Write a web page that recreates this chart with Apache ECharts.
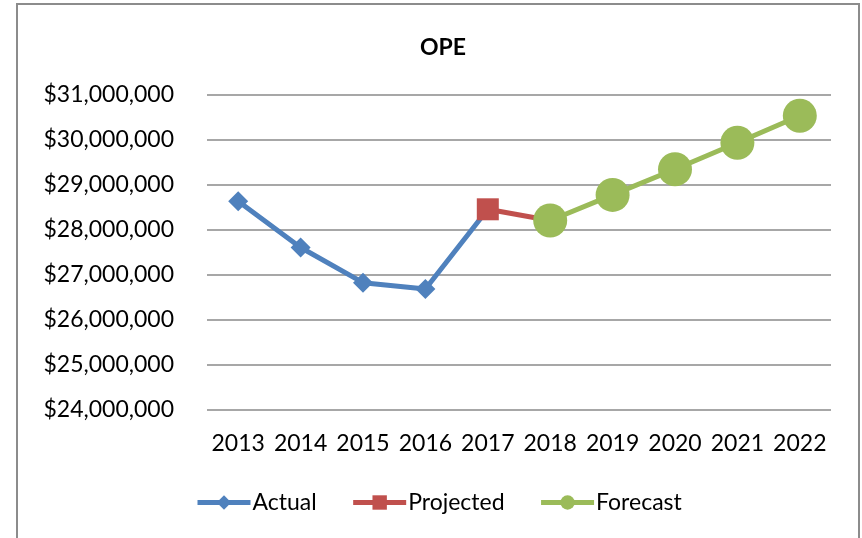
<!DOCTYPE html>
<html>
<head>
<meta charset="utf-8">
<script src="https://cdn.jsdelivr.net/npm/echarts@6/dist/echarts.min.js"></script>
<style>
  html, body { margin: 0; padding: 0; background: #fff; }
  #chart { width: 862px; height: 538px; }
</style>
</head>
<body>
<div id="chart"></div>
<script>
// chart data
const years = ['2013', '2014', '2015', '2016', '2017', '2018', '2019', '2020', '2021', '2022']
const actual = [28640000, 27610000, 26830000, 26690000, 28460000, null, null, null, null, null]
const projected = [null, null, null, null, 28460000, 28210000, null, null, null, null]
const forecast = [null, null, null, null, null, 28210000, 28780000, 29350000, 29940000, 30540000]

const font = 'Lato'
const chart = echarts.init(document.getElementById('chart'))

const money = v => '$' + v.toLocaleString('en-US')

let option = {
  animation: false,
  title: {
    text: 'OPE',
    left: 438,
    top: 31,
    textAlign: 'center',
    textStyle: { fontFamily: font, fontSize: 23, fontWeight: 'bold', color: '#000' }
  },
  graphic: [{
    type: 'rect',
    shape: { x: 17, y: 4, width: 842, height: 560 },
    style: { fill: 'none', stroke: '#8c8c8c', lineWidth: 2 },
    silent: true
  }],
  legend: {
    left: 190,
    top: 486,
    itemWidth: 53,
    itemHeight: 18,
    itemGap: 34,
    lineStyle: { width: 5 },
    textStyle: { fontFamily: font, fontSize: 23, color: '#000', padding: [0, 0, 0, -3] },
    data: ['Actual', 'Projected', 'Forecast']
  },
  grid: { left: 207, right: 31, top: 95, bottom: 128 },
  xAxis: {
    type: 'category',
    data: years,
    axisLine: { show: false },
    axisTick: { show: false },
    axisLabel: { fontFamily: font, fontSize: 23, color: '#000', margin: 22, interval: 0 }
  },
  yAxis: {
    type: 'value',
    min: 24000000,
    max: 31000000,
    interval: 1000000,
    axisLine: { show: false },
    axisTick: { show: false },
    splitLine: { lineStyle: { color: '#8a8a8a', width: 1.5 } },
    axisLabel: { fontFamily: font, fontSize: 23, color: '#000', margin: 33, formatter: money }
  },
  series: [
    {
      name: 'Actual',
      type: 'line',
      data: actual,
      symbol: 'diamond',
      symbolSize: 20,
      color: '#4f81bd',
      lineStyle: { width: 5 }
    },
    {
      name: 'Projected',
      type: 'line',
      data: projected,
      symbol: 'rect',
      symbolSize: 22,
      color: '#c0504d',
      lineStyle: { width: 5 }
    },
    {
      name: 'Forecast',
      type: 'line',
      data: forecast,
      symbol: 'circle',
      symbolSize: 34,
      color: '#9bbb59',
      lineStyle: { width: 5 }
    }
  ]
}

chart.setOption(option)
</script>
</body>
</html>
